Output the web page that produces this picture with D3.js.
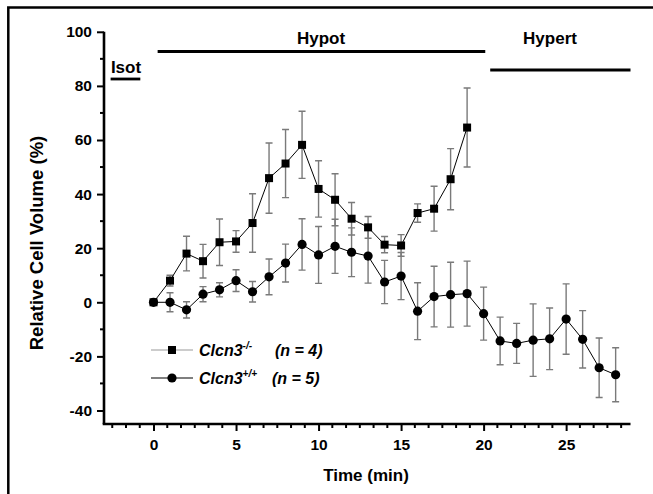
<!DOCTYPE html>
<html><head><meta charset="utf-8">
<script src="https://cdn.jsdelivr.net/npm/d3@7"></script>
<style>
html,body{margin:0;padding:0;background:#fff;}
svg{display:block;font-family:"Liberation Sans",Arial,sans-serif;font-weight:bold;}
</style></head>
<body>
<script>
// ---- data ----
const timeKO = d3.range(0, 20);
const volKO = [0, 8, 18, 15.2, 22.2, 22.5, 29.3, 45.9, 51.3, 58.2, 41.9, 37.9, 30.9, 27.7, 21.3, 21, 33, 34.6, 45.5, 64.6];
const errKO = [0.8, 2, 6.4, 6.2, 8.6, 4, 10.8, 13, 12.6, 12.4, 10.4, 9.6, 6, 4, 3, 4, 3.4, 8.3, 11.3, 14.6];
const timeWT = d3.range(0, 29);
const volWT = [0, 0, -2.8, 3, 4.6, 8, 3.9, 9.4, 14.5, 21.4, 17.5, 20.7, 18.5, 17.1, 7.5, 9.7, -3.3, 2.1, 2.8, 3.2, -4.2, -14.3, -15.2, -14, -13.5, -6.2, -13.7, -24.2, -26.8];
const errWT = [0.5, 3.5, 3, 2.8, 2.6, 4, 3.8, 6.6, 7, 9.5, 10.5, 10, 9, 10, 8, 8.7, 10.5, 11.2, 12, 12, 9.8, 8.8, 7.4, 13.4, 11.4, 13, 10.6, 11, 10];
const xTicks = [0, 5, 10, 15, 20, 25];
const yTicks = [-40, -20, 0, 20, 40, 60, 80, 100];
const phaseNames = ["Isot", "Hypot", "Hypert"];
const phaseStart = [-2.6, 0.25, 20.4];
const phaseEnd = [-0.8, 20.1, 28.9];
const seriesNames = ["Clcn3", "Clcn3"];
const seriesSup = ["-/-", "+/+"];
const seriesN = ["(n = 4)", "(n = 5)"];

// ---- layout ----
const W = 653, H = 494;
const svg = d3.select("body").append("svg").attr("width", W).attr("height", H);
const x = d3.scaleLinear().domain([-3, 28.9]).range([104, 630.5]);
const y = d3.scaleLinear().domain([-45, 100]).range([424, 31.8]);
const fmt = d => String(d); // plain hyphen-minus like the original

// outer frame (left & top)
svg.append("path").attr("d", `M8.3,${H}V7.5H${W}`).attr("fill", "none").attr("stroke", "#000").attr("stroke-width", 2.5);

// axes
const gx = svg.append("g").attr("transform", `translate(0,${y(-45)})`);
const xMinor = d3.range(-2.5, 28.9, 5/6).filter(v => Math.abs(v/5 - Math.round(v/5)) > 0.01);
gx.selectAll("line.minor").data(xMinor).join("line").attr("class","minor")
  .attr("x1", d => x(d)).attr("x2", d => x(d)).attr("y1", 0).attr("y2", 4).attr("stroke","#000").attr("stroke-width",2);
gx.call(d3.axisBottom(x).tickValues(xTicks).tickSize(7).tickSizeOuter(0).tickPadding(8).tickFormat(fmt));
gx.select(".domain").attr("stroke-width", 2.6).attr("d", `M${x(-3)-1.3},0H${x(28.9)}`);
gx.selectAll(".tick line").attr("stroke-width", 2);
gx.selectAll(".tick text").attr("font-size", 15.5).attr("font-weight","bold").attr("font-family","Liberation Sans, Arial, sans-serif").attr("fill","#000");

const gy = svg.append("g").attr("transform", `translate(${x(-3)},0)`);
const yMinor = d3.range(-30, 100, 20);
gy.selectAll("line.minor").data(yMinor).join("line").attr("class","minor")
  .attr("x1", -4).attr("x2", 0).attr("y1", d => y(d)).attr("y2", d => y(d)).attr("stroke","#000").attr("stroke-width",2);
gy.call(d3.axisLeft(y).tickValues(yTicks).tickSize(7).tickSizeOuter(0).tickPadding(5).tickFormat(fmt));
gy.select(".domain").attr("stroke-width", 2.6).attr("d", `M0,${y(100)}V${y(-45)}`);
gy.selectAll(".tick line").attr("stroke-width", 2);
gy.selectAll(".tick text").attr("font-size", 15.5).attr("font-weight","bold").attr("font-family","Liberation Sans, Arial, sans-serif").attr("fill","#000");

// axis titles
svg.append("text").attr("x", 366).attr("y", 481).attr("text-anchor","middle").attr("font-size", 17).text("Time (min)");
svg.append("text").attr("transform", "translate(43,243) rotate(-90)").attr("text-anchor","middle").attr("font-size", 18.5).text("Relative Cell Volume (%)");

// phase bars
const barY = [79, 51.5, 70];
const labelY = [73, 44, 44];
const labelX = [126, 321, 550];
phaseNames.forEach((p, i) => {
  svg.append("line").attr("x1", x(phaseStart[i])).attr("x2", x(phaseEnd[i]))
    .attr("y1", barY[i]).attr("y2", barY[i]).attr("stroke","#000").attr("stroke-width", 2.8);
  svg.append("text").attr("x", labelX[i]).attr("y", labelY[i]).attr("text-anchor","middle").attr("font-size", 17).text(p);
});

// series drawing
const errColor = "#7a7a7a";
function drawSeries(times, vals, errs, shape) {
  const g = svg.append("g");
  const pts = times.map((t, i) => ({t, v: vals[i], e: errs[i]}));
  g.selectAll("path.err").data(pts).join("path").attr("class","err")
    .attr("d", d => `M${x(d.t)},${y(d.v+d.e)}V${y(d.v-d.e)}M${x(d.t)-3.5},${y(d.v+d.e)}h7M${x(d.t)-3.5},${y(d.v-d.e)}h7`)
    .attr("stroke", errColor).attr("stroke-width", 1.4).attr("fill","none");
  g.append("path").datum(pts).attr("d", d3.line().x(d => x(d.t)).y(d => y(d.v)))
    .attr("fill","none").attr("stroke","#000").attr("stroke-width",1);
  if (shape === "square") {
    g.selectAll("rect").data(pts).join("rect").attr("x", d => x(d.t)-4).attr("y", d => y(d.v)-4)
      .attr("width", 8).attr("height", 8).attr("fill","#000");
  } else {
    g.selectAll("circle").data(pts).join("circle").attr("cx", d => x(d.t)).attr("cy", d => y(d.v))
      .attr("r", 4.6).attr("fill","#000");
  }
}
drawSeries(timeWT, volWT, errWT, "circle");
drawSeries(timeKO, volKO, errKO, "square");

// legend
const legY = [350, 378];
const legLine = ["#9a9a9a", "#000"];
const nX = [275, 272];
[0, 1].forEach(i => {
  svg.append("line").attr("x1", 151).attr("x2", 193).attr("y1", legY[i]).attr("y2", legY[i]).attr("stroke", legLine[i]).attr("stroke-width", 1.2);
  if (i === 0) svg.append("rect").attr("x", 172-4).attr("y", legY[i]-4).attr("width", 8).attr("height", 8).attr("fill","#000");
  else svg.append("circle").attr("cx", 172).attr("cy", legY[i]).attr("r", 4.6).attr("fill","#000");
  const t = svg.append("text").attr("x", 199).attr("y", legY[i]+6).attr("font-size", 16).attr("font-style","italic");
  t.append("tspan").text(seriesNames[i]);
  t.append("tspan").attr("font-size", 10).attr("dy", -7).text(seriesSup[i]);
  svg.append("text").attr("x", nX[i]).attr("y", legY[i]+6).attr("font-size", 16).attr("font-style","italic").text(seriesN[i]);
});
</script>
</body></html>
